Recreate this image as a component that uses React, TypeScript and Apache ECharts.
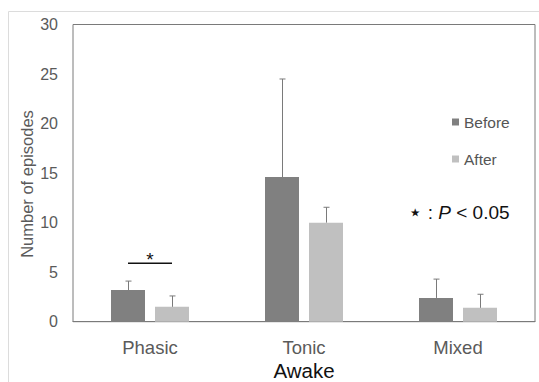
import React, { useEffect, useRef } from 'react';
import * as echarts from 'echarts';

const categories = ['Phasic', 'Tonic', 'Mixed'];
const seriesNames = ['Before', 'After'];
const beforeValues = [3.2, 14.6, 2.4];
const afterValues = [1.5, 10.0, 1.4];
const beforeErrors = [0.9, 9.9, 1.9];
const afterErrors = [1.1, 1.55, 1.37];
const significance = [[0, 5.9]];
const xAxisTitle = 'Awake';
const yAxisTitle = 'Number of episodes';
const yMin = 0;
const yMax = 30;
const yInterval = 5;

const BAR_W = 34;
const GAP = 10;
const FONT = "'Liberation Sans', Arial, Helvetica, sans-serif";

export default function App() {
  const ref = useRef<HTMLDivElement>(null);
  useEffect(() => {
    if (!ref.current) return;
    const chart = echarts.init(ref.current, null, { renderer: 'svg' });
    const errData: number[][] = [];
    categories.forEach((_, i) => {
      errData.push([i, beforeValues[i], beforeErrors[i], 0]);
      errData.push([i, afterValues[i], afterErrors[i], 1]);
    });
    chart.setOption({
      animation: false,
      backgroundColor: '#fff',
      grid: {
        left: 73,
        right: 4,
        top: 24.5,
        bottom: 60.3,
        outerBoundsMode: 'none',
        containLabel: false,
        show: true,
        borderColor: '#7a7a7a',
        borderWidth: 1,
        backgroundColor: 'transparent',
      },
      legend: {
        data: seriesNames,
        orient: 'vertical',
        left: 452,
        top: 114,
        padding: 0,
        itemWidth: 7,
        itemHeight: 7,
        itemGap: 21,
        icon: 'rect',
        textStyle: { fontSize: 15.5, color: '#555', fontFamily: FONT },
      },
      xAxis: {
        type: 'category',
        data: categories,
        axisLine: { show: true, lineStyle: { color: '#7a7a7a', width: 1 } },
        axisTick: { show: false },
        axisLabel: { fontSize: 18.5, color: '#5a5a5a', margin: 16, fontFamily: FONT },
      },
      yAxis: {
        type: 'value',
        min: yMin,
        max: yMax,
        interval: yInterval,
        axisLine: { show: false },
        axisTick: { show: false },
        splitLine: { show: false },
        axisLabel: { fontSize: 16, color: '#5a5a5a', margin: 15, fontFamily: FONT },
      },
      graphic: [
        {
          type: 'rect',
          silent: true,
          z: -10,
          shape: { x: 8.5, y: 11.5, width: 620, height: 420 },
          style: { fill: 'none', stroke: '#dcdcdc', lineWidth: 1 },
        },
        {
          type: 'text',
          x: 27,
          y: 184,
          rotation: Math.PI / 2,
          style: {
            text: yAxisTitle,
            align: 'center',
            verticalAlign: 'middle',
            fontSize: 16.5,
            fill: '#5a5a5a',
            fontFamily: FONT,
          },
        },
        {
          type: 'text',
          x: 304,
          y: 370,
          style: {
            text: xAxisTitle,
            align: 'center',
            verticalAlign: 'middle',
            fontSize: 20.5,
            fill: '#111',
            fontFamily: FONT,
          },
        },
        {
          type: 'text',
          x: 408,
          y: 212,
          style: {
            text: '{s|\u22c6} : {i|P} < 0.05',
            align: 'left',
            verticalAlign: 'middle',
            fontSize: 19,
            fill: '#111',
            fontFamily: FONT,
            rich: {
              s: { fontSize: 23, fill: '#111', fontFamily: "'DejaVu Sans', sans-serif" },
              i: { fontSize: 19, fontStyle: 'italic', fill: '#111', fontFamily: FONT },
            },
          },
        },
      ],
      series: [
        {
          name: 'Before',
          type: 'bar',
          data: beforeValues,
          barWidth: BAR_W,
          barGap: (GAP / BAR_W) * 100 + '%',
          itemStyle: { color: '#808080' },
        },
        {
          name: 'After',
          type: 'bar',
          data: afterValues,
          barWidth: BAR_W,
          itemStyle: { color: '#c0c0c0' },
        },
        {
          name: 'errors',
          type: 'custom',
          data: errData,
          encode: { x: 0, y: 1 },
          z: 5,
          renderItem: (params: any, api: any) => {
            const cat = api.value(0);
            const val = api.value(1);
            const err = api.value(2);
            const s = api.value(3);
            const base = api.coord([cat, val]);
            const top = api.coord([cat, val + err]);
            const off = (s === 0 ? -1 : 1) * (BAR_W + GAP) / 2;
            const x = Math.round(base[0] + off) + 0.5;
            const st = { stroke: '#7a7a7a', lineWidth: 1 };
            return {
              type: 'group',
              children: [
                { type: 'line', shape: { x1: x, y1: base[1], x2: x, y2: top[1] }, style: st },
                { type: 'line', shape: { x1: x - 3, y1: top[1], x2: x + 3, y2: top[1] }, style: st },
              ],
            };
          },
        },
        {
          name: 'sig',
          type: 'custom',
          data: significance,
          encode: { x: 0, y: 1 },
          z: 5,
          renderItem: (params: any, api: any) => {
            const cat = api.value(0);
            const lvl = api.value(1);
            const p = api.coord([cat, lvl]);
            const half = (BAR_W + GAP) / 2;
            return {
              type: 'group',
              children: [
                {
                  type: 'line',
                  shape: { x1: p[0] - half, y1: p[1], x2: p[0] + half, y2: p[1] },
                  style: { stroke: '#111', lineWidth: 1.5 },
                },
                {
                  type: 'text',
                  x: p[0],
                  y: p[1] - 4,
                  style: {
                    text: '*',
                    align: 'center',
                    verticalAlign: 'middle',
                    fontSize: 19,
                    fill: '#111',
                    fontFamily: FONT,
                  },
                },
              ],
            };
          },
        },
      ],
    });
    return () => chart.dispose();
  }, []);
  return <div ref={ref} style={{ width: 539, height: 382, position: 'absolute', left: 0, top: 0 }} />;
}
